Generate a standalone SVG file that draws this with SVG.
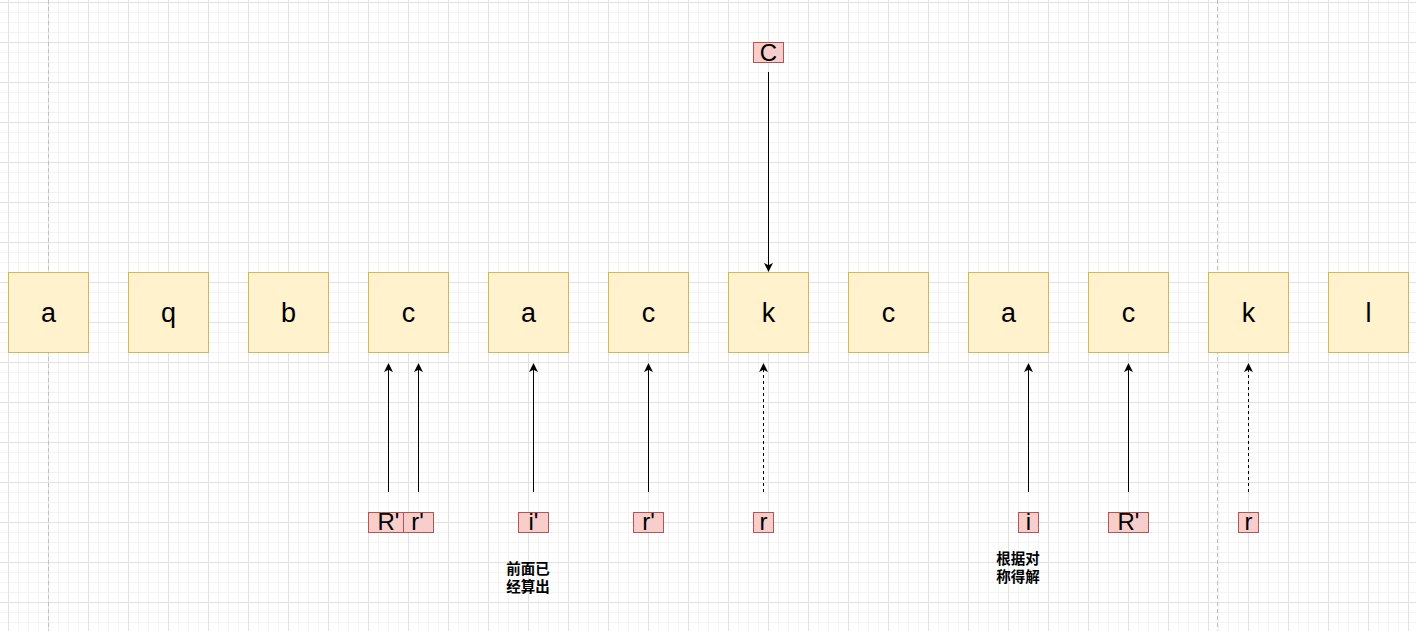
<svg xmlns="http://www.w3.org/2000/svg" width="1416" height="631" viewBox="0 0 1416 631">
<style>
.box{fill:#fff2cc;stroke:#d6b656;stroke-width:1}
.lab{fill:#f8cecc;stroke:#b85450;stroke-width:1}
.t{font-family:"Liberation Sans",Arial,sans-serif;font-size:27px;fill:#000;text-anchor:middle}
.tl{font-family:"Liberation Sans",Arial,sans-serif;font-size:24px;fill:#000;text-anchor:middle}
.cn{font-family:"Liberation Sans","Noto Sans CJK SC",sans-serif;font-size:14.5px;font-weight:bold;fill:#000;text-anchor:middle}
.c{stroke:#000;stroke-width:1;fill:none}
.d{stroke-dasharray:3 3}
.pg{stroke:#c0c0c0;stroke-width:1;stroke-dasharray:4 3}
</style>
<defs>
<pattern id="grid" patternUnits="userSpaceOnUse" x="8" y="2" width="40" height="40">
<path d="M10.5,0V40M20.5,0V40M30.5,0V40M0,10.5H40M0,20.5H40M0,30.5H40" stroke="#f3f3f3" stroke-width="1" fill="none"/>
<path d="M0.5,0V40M0,0.5H40" stroke="#e2e2e2" stroke-width="1" fill="none"/>
</pattern>
<marker id="arr" viewBox="0 0 10 10" refX="9" refY="5" markerWidth="9" markerHeight="9" markerUnits="userSpaceOnUse" orient="auto">
<path d="M0,0L10,5L0,10L2.5,5z" fill="#000"/>
</marker>
</defs>
<rect width="1416" height="631" fill="#fff"/>
<rect width="1416" height="631" fill="url(#grid)"/>
<path class="pg" d="M48.5,0V631M1217.5,0V631"/>

<g id="connectors">
<path class="c" d="M768.5,72V271" marker-end="url(#arr)"/>
<path class="c" d="M388.5,492V364" marker-end="url(#arr)"/>
<path class="c" d="M418.5,492V364" marker-end="url(#arr)"/>
<path class="c" d="M533.5,492V364" marker-end="url(#arr)"/>
<path class="c" d="M648.5,492V364" marker-end="url(#arr)"/>
<path class="c d" d="M763.5,492V364" marker-end="url(#arr)"/>
<path class="c" d="M1028.5,492V364" marker-end="url(#arr)"/>
<path class="c" d="M1128.5,492V364" marker-end="url(#arr)"/>
<path class="c d" d="M1248.5,492V364" marker-end="url(#arr)"/>
</g>

<g id="n0"><rect class="box" x="8.5" y="272.5" width="80" height="80"/><text class="t" x="48.5" y="322">a</text></g>
<g id="n1"><rect class="box" x="128.5" y="272.5" width="80" height="80"/><text class="t" x="168.5" y="322">q</text></g>
<g id="n2"><rect class="box" x="248.5" y="272.5" width="80" height="80"/><text class="t" x="288.5" y="322">b</text></g>
<g id="n3"><rect class="box" x="368.5" y="272.5" width="80" height="80"/><text class="t" x="408.5" y="322">c</text></g>
<g id="n4"><rect class="box" x="488.5" y="272.5" width="80" height="80"/><text class="t" x="528.5" y="322">a</text></g>
<g id="n5"><rect class="box" x="608.5" y="272.5" width="80" height="80"/><text class="t" x="648.5" y="322">c</text></g>
<g id="n6"><rect class="box" x="728.5" y="272.5" width="80" height="80"/><text class="t" x="768.5" y="322">k</text></g>
<g id="n7"><rect class="box" x="848.5" y="272.5" width="80" height="80"/><text class="t" x="888.5" y="322">c</text></g>
<g id="n8"><rect class="box" x="968.5" y="272.5" width="80" height="80"/><text class="t" x="1008.5" y="322">a</text></g>
<g id="n9"><rect class="box" x="1088.5" y="272.5" width="80" height="80"/><text class="t" x="1128.5" y="322">c</text></g>
<g id="n10"><rect class="box" x="1208.5" y="272.5" width="80" height="80"/><text class="t" x="1248.5" y="322">k</text></g>
<g id="n11"><rect class="box" x="1328.5" y="272.5" width="80" height="80"/><text class="t" x="1368.5" y="322">l</text></g>

<g id="lC"><rect class="lab" x="753.5" y="42.5" width="30" height="20"/><text class="tl" x="768.5" y="61">C</text></g>
<g id="lR1"><rect class="lab" x="368.5" y="512.5" width="35" height="20"/><text class="tl" x="388.5" y="530">R'</text></g>
<g id="lr1"><rect class="lab" x="403.5" y="512.5" width="30" height="20"/><text class="tl" x="417.5" y="530">r'</text></g>
<g id="li1"><rect class="lab" x="518.5" y="512.5" width="30" height="20"/><text class="tl" x="533.5" y="530">i'</text></g>
<g id="lr2"><rect class="lab" x="633.5" y="512.5" width="30" height="20"/><text class="tl" x="648.5" y="530">r'</text></g>
<g id="lr3"><rect class="lab" x="753.5" y="512.5" width="20" height="20"/><text class="tl" x="763.5" y="530">r</text></g>
<g id="li2"><rect class="lab" x="1018.5" y="512.5" width="20" height="20"/><text class="tl" x="1028.5" y="530">i</text></g>
<g id="lR2"><rect class="lab" x="1108.5" y="512.5" width="40" height="20"/><text class="tl" x="1128.5" y="530">R'</text></g>
<g id="lr4"><rect class="lab" x="1238.5" y="512.5" width="20" height="20"/><text class="tl" x="1248.5" y="530">r</text></g>

<g id="note1"><text class="cn" x="528" y="574">前面已</text><text class="cn" x="528" y="592">经算出</text></g>
<g id="note2"><text class="cn" x="1018" y="564">根据对</text><text class="cn" x="1018" y="582">称得解</text></g>
</svg>
